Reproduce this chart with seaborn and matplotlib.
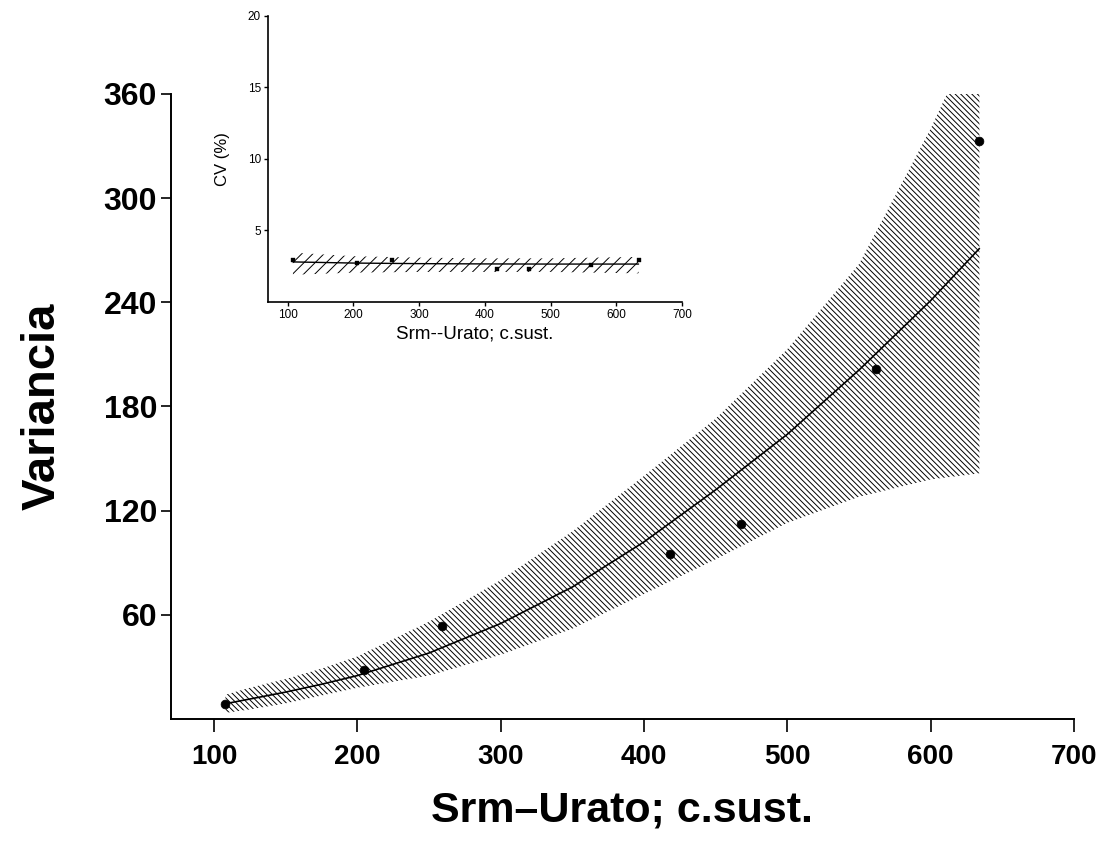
import numpy as np
import pandas as pd
import matplotlib
matplotlib.use("Agg")
import matplotlib.pyplot as plt
import seaborn as sns

# ---- data ----
urate = [108, 205, 259, 418, 468, 562, 634]
variance = [8.6, 28.0, 53.3, 95.3, 112.4, 201.5, 332.7]
cv_pct = [2.9, 2.7, 2.9, 2.3, 2.3, 2.6, 2.9]

fit_x = [108, 125, 150, 175, 200, 250, 300, 350, 400, 450, 500, 550, 600, 634]
fit_y = [8.8, 11.5, 15.5, 20, 25, 38, 55, 76, 102, 132, 164, 201, 241, 271]
fit_lo = [3.5, 5.5, 9, 13.5, 18, 25, 37, 52, 72, 92, 113, 128, 138, 141.5]
fit_hi = [14, 18, 23, 29, 36, 56, 80, 108, 140, 173, 213, 262, 340, 400]

cv_fit_x = [108, 200, 300, 400, 500, 634]
cv_fit_y = [2.8, 2.72, 2.68, 2.66, 2.65, 2.65]
cv_fit_lo = [1.9, 2.05, 2.1, 2.1, 2.1, 2.0]
cv_fit_hi = [3.45, 3.2, 3.1, 3.05, 3.05, 3.15]

main_xticks = [100, 200, 300, 400, 500, 600, 700]
main_yticks = [60, 120, 180, 240, 300, 360]
inset_yticks = [5, 10, 15, 20]

sns.set_style("ticks")
plt.rcParams['font.family'] = ['Liberation Sans', 'DejaVu Sans']
plt.rcParams['hatch.color'] = 'black'
plt.rcParams['hatch.linewidth'] = 0.7
plt.rcParams['text.color'] = 'black'
plt.rcParams['axes.labelcolor'] = 'black'

df = pd.DataFrame({"x": urate, "var": variance, "cv": cv_pct})
fit = pd.DataFrame({"x": fit_x, "y": fit_y})
cvfit = pd.DataFrame({"x": cv_fit_x, "y": cv_fit_y})

fig = plt.figure(figsize=(11.11, 8.43), dpi=100)
ax = fig.add_axes([0.1539, 0.1471, 0.8128, 0.7414])

ax.fill_between(fit_x, fit_lo, fit_hi, facecolor='none', edgecolor='black',
                hatch='\\' * 6, linewidth=0)
sns.lineplot(data=fit, x="x", y="y", ax=ax, color='black', linewidth=1.2)
sns.scatterplot(data=df, x="x", y="var", ax=ax, color='black', s=40,
                edgecolor='black', zorder=5)

ax.set_xlim(70, 700)
ax.set_ylim(0, 360)
ax.set_xticks(main_xticks)
ax.set_yticks(main_yticks)
for lab in ax.get_xticklabels():
    lab.set_fontsize(20); lab.set_fontweight('bold')
for lab in ax.get_yticklabels():
    lab.set_fontsize(23); lab.set_fontweight('bold')
ax.tick_params(axis='x', length=9, width=1.2, pad=9, colors='black')
ax.tick_params(axis='y', length=7, width=1.2, pad=3, colors='black')
ax.set_xlabel("Srm\u2013Urato; c.sust.", fontsize=31, fontweight='bold', labelpad=15)
ax.set_ylabel("Variancia", fontsize=34, fontweight='bold', labelpad=28)
for s in ['top', 'right']:
    ax.spines[s].set_visible(False)
for s in ['left', 'bottom']:
    ax.spines[s].set_linewidth(1.4)
    ax.spines[s].set_color('black')

# ---- inset ----
ins = fig.add_axes([0.2412, 0.6418, 0.3726, 0.3393])
ins.fill_between(cv_fit_x, cv_fit_lo, cv_fit_hi, facecolor='none', edgecolor='black',
                 hatch='///', linewidth=0)
sns.lineplot(data=cvfit, x="x", y="y", ax=ins, color='black', linewidth=1.0)
sns.scatterplot(data=df, x="x", y="cv", ax=ins, color='black', s=10, marker='s',
                edgecolor='black', zorder=5)
ins.set_xlim(70, 700)
ins.set_ylim(0, 20)
ins.set_xticks(main_xticks)
ins.set_yticks(inset_yticks)
ins.tick_params(axis='both', length=3, width=1.0, pad=2, labelsize=8.5, colors='black')
ins.set_xlabel("Srm--Urato; c.sust.", fontsize=13.5, labelpad=3)
ins.set_ylabel("CV (%)", fontsize=12, labelpad=13)
for s in ['top', 'right']:
    ins.spines[s].set_visible(False)
for s in ['left', 'bottom']:
    ins.spines[s].set_linewidth(1.2)
    ins.spines[s].set_color('black')
ins.patch.set_alpha(0)

fig.savefig("out.png", dpi=100)
